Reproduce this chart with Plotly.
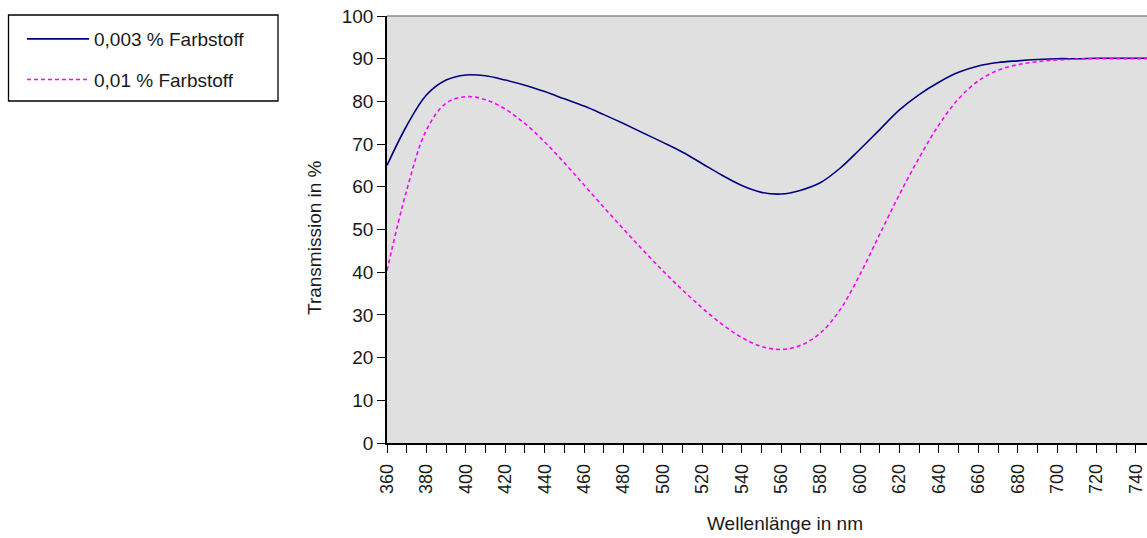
import plotly.graph_objects as go

wavelength = [360, 370, 380, 390, 400, 410, 420, 430, 440, 450, 460, 470, 480, 490,
              500, 510, 520, 530, 540, 550, 560, 570, 580, 590, 600, 610, 620, 630,
              640, 650, 660, 670, 680, 690, 700, 710, 720, 730, 740, 750]

trans_0003 = [65.0, 74.3, 81.5, 85.0, 86.2, 86.0, 85.0, 83.8, 82.3, 80.6, 78.9, 76.9,
              74.8, 72.6, 70.4, 68.1, 65.4, 62.7, 60.3, 58.7, 58.3, 59.2, 61.0, 64.4,
              68.8, 73.4, 78.0, 81.6, 84.5, 86.8, 88.3, 89.1, 89.5, 89.8, 90.0, 90.0,
              90.1, 90.1, 90.1, 90.1]

trans_001 = [40.4, 59.2, 73.3, 79.6, 81.1, 80.4, 78.2, 74.8, 70.5, 65.6, 60.4, 55.2,
             50.1, 45.1, 40.3, 35.8, 31.6, 27.8, 24.7, 22.6, 21.9, 22.9, 25.8, 31.3,
             39.5, 48.9, 58.2, 66.8, 74.5, 80.6, 84.8, 87.3, 88.6, 89.3, 89.7, 89.9,
             90.0, 90.0, 90.0, 90.0]

series_names = ["0,003 % Farbstoff", "0,01 % Farbstoff"]
x_tickvals = list(range(360, 760, 10))
x_ticktext = [str(v) if (v - 360) % 20 == 0 else "" for v in x_tickvals]
y_tickvals = list(range(0, 101, 10))

FONT = "Liberation Sans, Arial, sans-serif"
TXT = "#1a1a1a"

W, H = 1147, 538
ML, MR, MT, MB = 387, 0, 16, 95
PW = W - ML - MR
PH = H - MT - MB


def px_x(fx):
    return (fx - ML) / PW


def px_y(fy):
    return (H - MB - fy) / PH


fig = go.Figure()
fig.add_trace(go.Scatter(
    x=wavelength, y=trans_0003, name=series_names[0], mode="lines",
    line=dict(color="#000080", width=1.6, shape="spline", smoothing=1.0),
    legendgroup="a"))
fig.add_trace(go.Scatter(
    x=wavelength, y=trans_001, name=series_names[1], mode="lines",
    line=dict(color="#FF00FF", width=1.6, dash="4px,3px", shape="spline", smoothing=1.0),
    legendgroup="b"))

x_range = [360, 745.6]
y_range = [0, 100]

fig.update_layout(
    width=W, height=H, autosize=False,
    margin=dict(l=ML, r=MR, t=MT, b=MB, pad=0),
    paper_bgcolor="white", plot_bgcolor="#E0E0E0",
    font=dict(family=FONT, size=19, color=TXT),
    showlegend=True,
    legend=dict(
        x=px_x(22), y=px_y(20), xanchor="left", yanchor="top",
        borderwidth=0, bgcolor="rgba(0,0,0,0)",
        font=dict(family=FONT, size=19, color=TXT),
        tracegroupgap=13, itemwidth=62,
    ),
    xaxis=dict(
        range=x_range, tickmode="array", tickvals=x_tickvals, ticktext=x_ticktext,
        tickangle=-90, ticks="outside", ticklen=8, tickwidth=1.2, tickcolor="black",
        ticklabelstandoff=4,
        showline=True, linecolor="black", linewidth=1.5, showgrid=False,
        zeroline=False, tickfont=dict(family=FONT, size=18, color=TXT),
    ),
    xaxis2=dict(
        range=x_range, overlaying="x", matches="x", anchor="y", side="bottom",
        tickmode="array", tickvals=x_tickvals, ticks="inside", ticklen=8,
        tickwidth=1.2, tickcolor="black", showticklabels=False, showgrid=False,
        zeroline=False, showline=False,
    ),
    yaxis=dict(
        range=y_range, tickmode="array", tickvals=y_tickvals,
        ticks="outside", ticklen=8, tickwidth=1.2, tickcolor="black",
        showline=True, linecolor="black", linewidth=1.5, showgrid=False,
        zeroline=False, tickfont=dict(family=FONT, size=19, color=TXT),
    ),
    yaxis2=dict(
        range=y_range, overlaying="y", matches="y", anchor="x", side="left",
        tickmode="array", tickvals=y_tickvals, ticks="inside", ticklen=8,
        tickwidth=1.2, tickcolor="black", showticklabels=False, showgrid=False,
        zeroline=False, showline=False,
    ),
    shapes=[
        dict(type="line", xref="paper", yref="paper", x0=0, x1=1, y0=1, y1=1,
             line=dict(color="#8a8a8a", width=1.5)),
        dict(type="rect", xref="paper", yref="paper",
             x0=px_x(8.5), x1=px_x(278), y0=px_y(15), y1=px_y(101),
             line=dict(color="black", width=1.3), fillcolor="rgba(0,0,0,0)",
             layer="below"),
    ],
    annotations=[
        dict(text="Transmission in %", xref="paper", yref="paper",
             x=px_x(314), y=px_y(238), textangle=-90,
             showarrow=False, xanchor="center", yanchor="middle",
             font=dict(family=FONT, size=19, color=TXT)),
        dict(text="Wellenlänge in nm", xref="paper", yref="paper",
             x=px_x(785), y=px_y(523),
             showarrow=False, xanchor="center", yanchor="middle",
             font=dict(family=FONT, size=19, color=TXT)),
    ],
)

fig.write_html(
    "out.html",
    config={"displayModeBar": False},
    post_script="document.body.style.margin='0';document.body.style.overflow='hidden';",
)
